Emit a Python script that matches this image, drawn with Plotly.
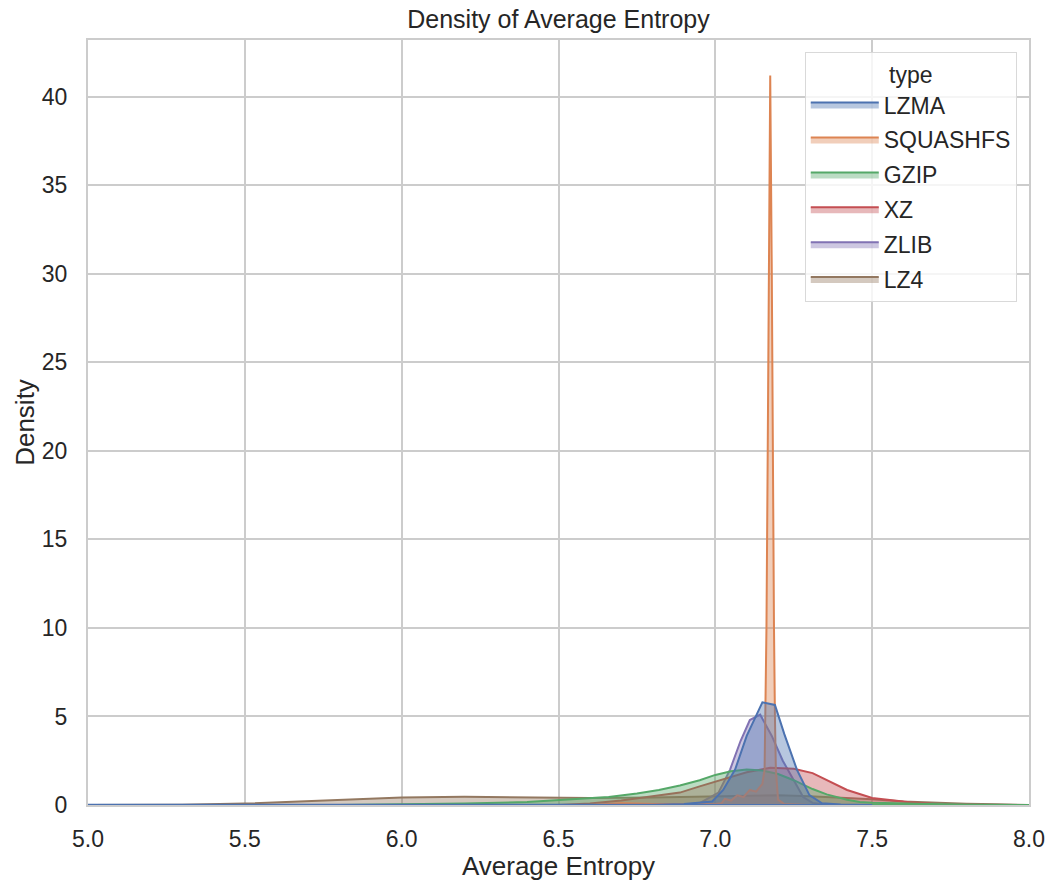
import plotly.graph_objects as go

types = ["LZMA", "SQUASHFS", "GZIP", "XZ", "ZLIB", "LZ4"]
colors = ["#4C72B0", "#DD8452", "#55A868", "#C44E52", "#8172B3", "#937860"]

lzma_x = [5.0, 6.0, 6.8, 6.9, 6.95, 6.99, 7.025, 7.063, 7.1, 7.15, 7.19, 7.22, 7.26, 7.30, 7.34, 7.4, 7.5]
lzma_y = [0.01, 0.01, 0.02, 0.06, 0.12, 0.2, 0.85, 2.0, 3.9, 5.8, 5.65, 4.0, 2.0, 0.56, 0.1, 0.03, 0.0]

sq_x = [6.6, 6.7, 6.8, 7.0, 7.02, 7.03, 7.05, 7.07, 7.09, 7.11, 7.13, 7.15, 7.157, 7.160, 7.163, 7.167, 7.170, 7.175, 7.180, 7.183, 7.187, 7.190, 7.193, 7.20, 7.22, 7.3]
sq_y = [0.0, 0.1, 0.05, 0.05, 0.1, 0.35, 0.25, 0.55, 0.45, 0.85, 0.75, 1.2, 2.0, 5.0, 10.0, 20.0, 30.0, 41.2, 30.0, 20.0, 10.0, 5.0, 2.0, 0.3, 0.05, 0.0]

gzip_x = [5.8, 6.0, 6.2, 6.4, 6.5, 6.6, 6.66, 6.75, 6.82, 6.887, 6.95, 7.0, 7.05, 7.1, 7.15, 7.2, 7.25, 7.31, 7.355, 7.42, 7.46, 7.5, 7.57, 7.65, 7.8, 8.0]
gzip_y = [0.0, 0.03, 0.08, 0.17, 0.28, 0.38, 0.45, 0.65, 0.85, 1.1, 1.4, 1.7, 1.9, 2.0, 1.95, 1.75, 1.4, 0.9, 0.6, 0.3, 0.17, 0.13, 0.1, 0.06, 0.02, 0.0]

xz_x = [6.5, 6.6, 6.7, 6.8, 6.887, 6.95, 7.025, 7.1, 7.175, 7.25, 7.31, 7.36, 7.42, 7.5, 7.56, 7.62, 7.68, 7.72]
xz_y = [0.0, 0.08, 0.25, 0.5, 0.7, 1.05, 1.45, 1.85, 2.1, 2.05, 1.8, 1.35, 0.85, 0.4, 0.28, 0.15, 0.08, 0.04]

zlib_x = [6.8, 6.9, 6.95, 7.01, 7.047, 7.08, 7.11, 7.143, 7.18, 7.215, 7.25, 7.28, 7.31, 7.35, 7.4]
zlib_y = [0.0, 0.03, 0.1, 0.7, 2.0, 3.6, 4.8, 5.1, 3.9, 2.5, 1.4, 0.45, 0.12, 0.03, 0.0]

lz4_x = [5.0, 5.3, 5.5, 5.7, 5.9, 6.0, 6.2, 6.4, 6.6, 6.8, 7.0, 7.1, 7.2, 7.3, 7.4, 7.5, 7.6, 7.7, 7.8, 7.9, 8.0]
lz4_y = [0.0, 0.02, 0.08, 0.2, 0.35, 0.42, 0.46, 0.43, 0.4, 0.42, 0.5, 0.55, 0.55, 0.5, 0.42, 0.32, 0.2, 0.12, 0.07, 0.04, 0.02]

series = {
    "LZMA": (lzma_x, lzma_y),
    "SQUASHFS": (sq_x, sq_y),
    "GZIP": (gzip_x, gzip_y),
    "XZ": (xz_x, xz_y),
    "ZLIB": (zlib_x, zlib_y),
    "LZ4": (lz4_x, lz4_y),
}

def rgba(h, a):
    h = h.lstrip("#")
    r, g, b = int(h[0:2], 16), int(h[2:4], 16), int(h[4:6], 16)
    return f"rgba({r},{g},{b},{a})"

fig = go.Figure()
items = list(zip(types, colors))
for rank, (name, col) in reversed(list(enumerate(items))):
    xs, ys = series[name]
    # closed polygon: curve plus return along the zero baseline
    px = list(xs) + [xs[-1], xs[0]]
    py = list(ys) + [0, 0]
    fig.add_trace(go.Scatter(
        x=px, y=py, name=name, mode="lines", legendgroup=name,
        legendrank=rank + 1,
        line=dict(color=col, width=2),
        fill="toself", fillcolor=rgba(col, 0.4),
    ))

W, H = 1051, 881
font_family = "Liberation Sans, Arial, sans-serif"
fig.update_layout(
    width=W, height=H,
    margin=dict(l=88, r=22, t=40, b=76, autoexpand=False),
    plot_bgcolor="white", paper_bgcolor="white",
    font=dict(family=font_family, size=23, color="#262626"),
    title=dict(text="Density of Average Entropy", x=0.5, xref="paper", xanchor="center",
               y=1 - 19 / H, yref="container", yanchor="middle", font=dict(size=25, color="#262626")),
    showlegend=True,
    legend=dict(
        title=dict(text="type", side="top center", font=dict(size=23)),
        traceorder="grouped", tracegroupgap=2,
        x=0.987, xanchor="right", y=0.984, yanchor="top",
        bgcolor="rgba(255,255,255,0.8)", bordercolor="#d9d9d9", borderwidth=1,
        font=dict(size=23), itemwidth=68,
    ),
    xaxis=dict(
        range=[5.0, 8.0], tickvals=[5.0, 5.5, 6.0, 6.5, 7.0, 7.5, 8.0],
        ticktext=["5.0", "5.5", "6.0", "6.5", "7.0", "7.5", "8.0"],
        showgrid=True, gridcolor="#cccccc", gridwidth=2,
        showline=True, linecolor="#cccccc", linewidth=2, mirror=True,
        zeroline=False, ticks="", automargin=True, ticklabelstandoff=12,
        title=dict(text="Average Entropy", font=dict(size=26), standoff=8),
        tickfont=dict(size=23),
    ),
    yaxis=dict(
        range=[0, 43.2], tickvals=[0, 5, 10, 15, 20, 25, 30, 35, 40],
        showgrid=True, gridcolor="#cccccc", gridwidth=2,
        showline=True, linecolor="#cccccc", linewidth=2, mirror=True,
        zeroline=False, ticks="", automargin=True, ticklabelstandoff=14,
        title=dict(text="Density", font=dict(size=26), standoff=0),
        tickfont=dict(size=23),
    ),
)

fig.write_html(
    "out.html",
    config={"displayModeBar": False},
    post_script="document.body.style.margin='0';document.body.style.overflow='hidden';",
)
